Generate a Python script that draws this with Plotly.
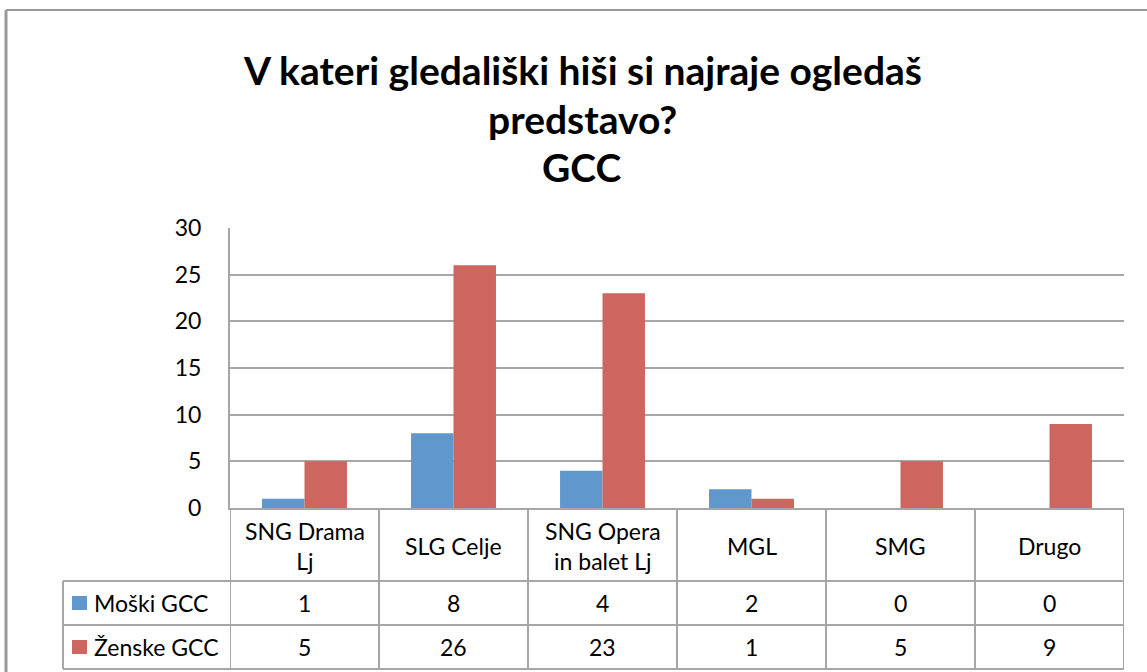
import plotly.graph_objects as go

categories = ["SNG Drama<br>Lj", "SLG Celje", "SNG Opera<br>in balet Lj", "MGL", "SMG", "Drugo"]
series_names = ["Moški GCC", "Ženske GCC"]
moski = [1, 8, 4, 2, 0, 0]
zenske = [5, 26, 23, 1, 5, 9]
y_ticks = [0, 5, 10, 15, 20, 25, 30]
title_lines = ["V kateri gledališki hiši si najraje ogledaš", "predstavo?", "GCC"]

W, H = 1147, 672
BLUE = "#6097CC"
RED = "#CD665F"
GRID = "#A6A6A6"
FONT = "Lato, Open Sans, sans-serif"
TXT = 23

def px(x):
    return x / W

def py(y):
    return 1 - y / H

x_idx = list(range(len(categories)))
n = len(categories)

fig = go.Figure()
fig.add_trace(go.Bar(x=x_idx, y=moski, name=series_names[0], marker=dict(color=BLUE, line=dict(width=0))))
fig.add_trace(go.Bar(x=x_idx, y=zenske, name=series_names[1], marker=dict(color=RED, line=dict(width=0))))

plot_left, plot_right = 230, 1124
plot_top, plot_bottom = 228, 508

shapes = []
line_style = dict(color=GRID, width=2)
# outer chart border (top and left)
shapes.append(dict(type="line", xref="paper", yref="paper", x0=px(6), x1=1, y0=py(10), y1=py(10),
                   line=dict(color="#999999", width=2)))
shapes.append(dict(type="line", xref="paper", yref="paper", x0=px(6), x1=px(6), y0=py(10), y1=0,
                   line=dict(color="#999999", width=3)))

# table vertical lines at category boundaries
for k in range(n + 1):
    shapes.append(dict(type="line", xref="x", yref="paper", x0=k - 0.5, x1=k - 0.5,
                       y0=py(508), y1=py(669), line=line_style))
# legend column left edge
shapes.append(dict(type="line", xref="paper", yref="paper", x0=px(63), x1=px(63), y0=py(581), y1=py(669),
                   line=line_style))
# horizontal rows
for yy in (581, 625, 669):
    shapes.append(dict(type="line", xref="paper", yref="paper", x0=px(63), x1=px(plot_right),
                       y0=py(yy), y1=py(yy), line=line_style))
# legend keys
row_centers = [603, 647]
for color, yc in zip([BLUE, RED], row_centers):
    shapes.append(dict(type="rect", xref="paper", yref="paper", x0=px(72), x1=px(87),
                       y0=py(yc - 7), y1=py(yc + 7), fillcolor=color, line=dict(width=0)))

annotations = []
title_y = [70, 119, 167]
for t, yy in zip(title_lines, title_y):
    annotations.append(dict(text="<b>" + t + "</b>", xref="paper", yref="paper", x=px(582), y=py(yy),
                            xanchor="center", yanchor="middle", showarrow=False,
                            font=dict(size=39, color="black", family=FONT)))
for i, c in enumerate(categories):
    annotations.append(dict(text=c, xref="x", yref="paper", x=i, y=py(546), xanchor="center", yanchor="middle",
                            showarrow=False, font=dict(size=TXT, color="black", family=FONT)))
for name, vals, yc in zip(series_names, [moski, zenske], row_centers):
    annotations.append(dict(text=name, xref="paper", yref="paper", x=px(92), y=py(yc), xanchor="left",
                            yanchor="middle", showarrow=False, font=dict(size=TXT, color="black", family=FONT)))
    for i, v in enumerate(vals):
        annotations.append(dict(text=str(v), xref="x", yref="paper", x=i, y=py(yc), xanchor="center",
                                yanchor="middle", showarrow=False, font=dict(size=TXT, color="black", family=FONT)))

fig.update_layout(
    width=W, height=H,
    margin=dict(l=0, r=0, t=0, b=0, autoexpand=False),
    paper_bgcolor="white", plot_bgcolor="white",
    showlegend=False,
    barmode="group", bargap=0.43, bargroupgap=0,
    font=dict(family=FONT, size=TXT, color="black"),
    xaxis=dict(domain=[px(plot_left), px(plot_right)], range=[-0.5, n - 0.5], showticklabels=False,
               showgrid=False, zeroline=False, showline=True, linecolor=GRID, linewidth=2, ticks="",
               automargin=False),
    yaxis=dict(domain=[py(plot_bottom), py(plot_top)], range=[0, 30], tickvals=y_ticks,
               showgrid=True, gridcolor=GRID, gridwidth=2, zeroline=False,
               showline=True, linecolor=GRID, linewidth=2, ticks="", ticklabelstandoff=22,
               tickfont=dict(size=TXT, color="black", family=FONT), automargin=False),
    shapes=shapes,
    annotations=annotations,
)

fig.write_html("out.html", config={"displayModeBar": False},
               post_script="document.body.style.margin='0';document.documentElement.style.overflow='hidden';")
